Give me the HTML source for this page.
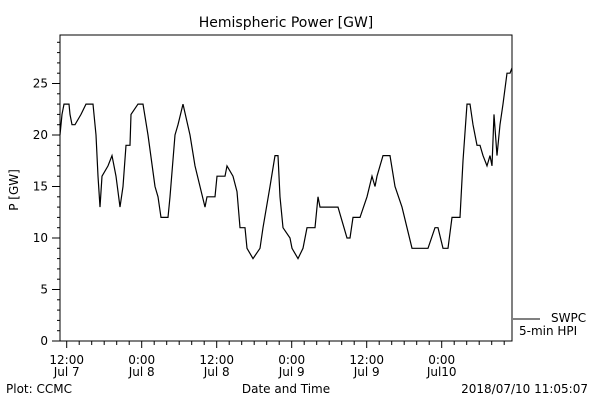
<!DOCTYPE html>
<html><head><meta charset="utf-8"><style>
body{margin:0;background:#fff}
svg{display:block;font-family:"DejaVu Sans","Liberation Sans",sans-serif}
text{fill:#000;font-size:12px}
</style></head><body>
<svg id="chart" width="600" height="400" viewBox="0 0 600 400">
<rect width="600" height="400" fill="#fff"/>
<text x="286" y="27" text-anchor="middle" style="font-size:14px">Hemispheric Power [GW]</text>
<text transform="translate(18,190) rotate(-90)" text-anchor="middle">P [GW]</text>
<text x="286" y="393" text-anchor="middle">Date and Time</text>
<text x="6" y="393">Plot: CCMC</text>
<text x="588" y="393" text-anchor="end">2018/07/10 11:05:07</text>
<rect x="60" y="35" width="452" height="306" fill="none" stroke="#000" stroke-width="1"/>
<g id="yaxis"></g>
<g id="xaxis"></g>
<polyline id="series" fill="none" stroke="#000" stroke-width="1.2"/>
<line x1="513" y1="319" x2="540" y2="319" stroke="#000"/>
<text x="551" y="322">SWPC</text>
<text x="519" y="335">5-min HPI</text>
</svg>
<script>
const times = [10.93,11.09,11.25,11.57,12.37,12.53,12.85,13.33,14.29,15.09,16.05,16.21,16.69,17.01,17.33,17.65,18.61,19.25,19.57,19.89,20.53,21.01,21.49,22.13,22.29,23.41,24.21,25.01,26.13,26.61,27.09,28.21,28.53,29.33,29.81,30.61,31.73,32.53,33.33,34.13,34.45,35.73,36.05,37.33,37.65,38.61,39.25,39.73,40.53,40.85,41.81,42.93,43.41,44.53,45.33,45.81,46.13,46.61,47.73,48.05,49.01,49.81,50.45,51.73,52.21,52.53,55.41,55.89,56.37,56.85,57.33,57.81,58.93,60.05,60.85,61.33,61.65,62.61,63.73,64.53,65.65,66.45,67.25,69.81,70.93,71.41,72.21,73.01,73.65,74.45,74.93,75.41,76.05,76.53,77.01,77.65,78.13,78.61,79.25,79.73,80.05,80.37,80.85,81.33,81.81,82.45,82.93,83.25];
const power = [20,21,22,23,23,22,21,21,22,23,23,23,20,16,13,16,17,18,17,16,13,15,19,19,22,23,23,20,15,14,12,12,14,20,21,23,20,17,15,13,14,14,16,16,17,16,14.5,11,11,9,8,9,11,15,18,18,14,11,10,9,8,9,11,11,14,13,13,12,11,10,10,12,12,14,16,15,16,18,18,15,13,11,9,9,11,11,9,9,12,12,12,17.5,23,23,21,19,19,18,17,18,17,22,18,21,23,26,26,26.5];
const yTickLabels = ["0","5","10","15","20","25"];
const xTickLabels = [["12:00","Jul 7"],["0:00","Jul 8"],["12:00","Jul 8"],["0:00","Jul 9"],["12:00","Jul 9"],["0:00","Jul10"]];
const xTickHours = [12,24,36,48,60,72];

const NS="http://www.w3.org/2000/svg";
const X = h => 66.7 + (h-12)*6.25;
const Y = v => 341 - v*10.3;
function mk(tag, attrs, parent){const e=document.createElementNS(NS,tag);for(const k in attrs)e.setAttribute(k,attrs[k]);parent.appendChild(e);return e;}
const ya=document.getElementById('yaxis'), xa=document.getElementById('xaxis');
for(let v=0; v<=29; v++){
  const major = v%5===0;
  const t=mk('line',{x1:major?52:57,x2:60,y1:Y(v),y2:Y(v),stroke:'#000'},ya);
  
  
}
yTickLabels.forEach(s=>{
  const t=mk('text',{x:48,y:Y(+s)+4,'text-anchor':'end'},ya);
  t.textContent=s;
  
  
});
for(let h=12; X(h)<=512; h+=2){
  const major=(h%12===0);
  const t=mk('line',{x1:X(h),x2:X(h),y1:341,y2:major?348:345,stroke:'#000'},xa);
  
  
}
xTickLabels.forEach((lab,i)=>{
  const x=X(xTickHours[i]);
  const a=mk('text',{x:x,y:364,'text-anchor':'middle'},xa); a.textContent=lab[0];
  
  
  const b=mk('text',{x:x,y:376,'text-anchor':'middle'},xa); b.textContent=lab[1];
  
  
});
document.getElementById('series').setAttribute('points', times.map((h,i)=>X(h).toFixed(1)+','+Y(power[i]).toFixed(1)).join(' '));
</script>
</body></html>
